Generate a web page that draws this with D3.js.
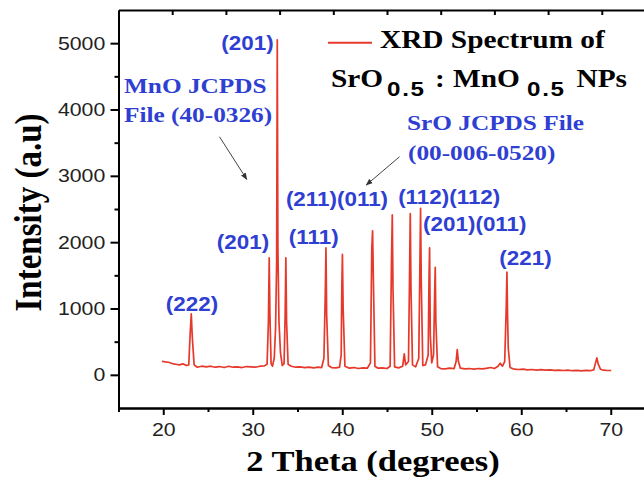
<!DOCTYPE html>
<html lang="en">
<head>
<meta charset="UTF-8">
<script src="https://d3js.org/d3.v7.min.js"></script>
<title>XRD Spectrum</title>
<style>
  body { margin: 0; background: #fff; }
  svg { display: block; }
</style>
</head>
<body>
<svg id="chart" width="644" height="482"></svg>
<script>
// spectrum (2 theta in degrees, intensity in a.u)
const twoTheta = [19.85, 20.2, 20.6, 21.0, 21.4, 21.8, 22.2, 22.6, 22.85, 23.0, 23.13, 23.25, 23.45, 23.8, 24.3, 24.8, 25.3, 25.8, 26.3, 26.8, 27.3, 27.8, 28.3, 28.8, 29.3, 29.8, 30.3, 30.8, 31.3, 31.6, 31.75, 31.84, 31.92, 32.05, 32.2, 32.4, 32.55, 32.67, 32.74, 32.81, 32.93, 33.1, 33.3, 33.5, 33.62, 33.7, 33.78, 33.95, 34.3, 34.8, 35.3, 35.8, 36.3, 36.8, 37.3, 37.7, 37.95, 38.1, 38.18, 38.26, 38.45, 38.8, 39.3, 39.7, 39.88, 39.95, 40.02, 40.1, 40.3, 40.8, 41.3, 41.8, 42.3, 42.8, 43.15, 43.3, 43.39, 43.47, 43.65, 44.0, 44.5, 45.0, 45.35, 45.5, 45.59, 45.67, 45.85, 46.3, 46.75, 46.93, 47.08, 47.4, 47.52, 47.6, 47.68, 47.85, 48.2, 48.55, 48.68, 48.75, 48.83, 49.0, 49.3, 49.6, 49.7, 49.76, 49.84, 50.0, 50.2, 50.32, 50.39, 50.46, 50.65, 51.0, 51.5, 52.0, 52.5, 52.72, 52.85, 52.98, 53.2, 53.7, 54.2, 54.7, 55.2, 55.7, 56.2, 56.6, 57.0, 57.4, 57.65, 57.9, 58.15, 58.32, 58.4, 58.47, 58.55, 58.75, 59.2, 59.7, 60.2, 60.7, 61.2, 61.7, 62.2, 62.7, 63.2, 63.7, 64.2, 64.7, 65.2, 65.7, 66.2, 66.7, 67.2, 67.7, 68.1, 68.3, 68.45, 68.6, 68.85, 69.2, 69.6, 70.05];
const intensity = [205, 195, 190, 170, 160, 150, 165, 140, 150, 600, 920, 560, 150, 115, 130, 120, 130, 115, 125, 110, 130, 115, 120, 110, 125, 120, 115, 130, 135, 160, 800, 1765, 900, 170, 130, 250, 700, 1700, 5050, 1900, 800, 330, 140, 170, 900, 1765, 800, 160, 130, 115, 120, 110, 115, 105, 115, 110, 250, 1200, 1915, 900, 140, 110, 105, 115, 300, 1300, 1815, 1000, 130, 100, 110, 95, 105, 100, 180, 1900, 2170, 1500, 130, 100, 105, 95, 130, 1700, 2410, 1300, 120, 105, 130, 315, 150, 200, 1500, 2430, 1300, 150, 120, 250, 1700, 2510, 1400, 140, 150, 300, 1500, 1915, 600, 180, 300, 1200, 1620, 800, 120, 95, 90, 100, 95, 200, 380, 200, 100, 90, 95, 85, 95, 90, 100, 110, 95, 130, 175, 130, 200, 1000, 1548, 900, 400, 110, 85, 80, 85, 75, 80, 70, 78, 70, 75, 68, 72, 65, 70, 62, 68, 60, 66, 62, 75, 180, 256, 160, 85, 70, 65, 65];

// peak labels (text, 2 theta of label centre, intensity of label baseline)
const peakLabels = ["(222)", "(201)", "(201)", "(111)", "(211)(011)", "(112)(112)", "(201)(011)", "(221)"];
const peakLabelTheta = [23.21, 29.41, 28.91, 36.81, 39.41, 51.95, 54.81, 60.47];
const peakLabelIntensity = [962, 4897, 1893, 1972, 2545, 2575, 2168, 1655];

// axis ticks
const xMajorTicks = [20, 30, 40, 50, 60, 70];
const xMinorTicks = [15, 25, 35, 45, 55, 65, 75];
const xTopTicks = [21, 27, 33, 39, 45, 51, 57, 63, 69];
const yMajorTicks = [0, 1000, 2000, 3000, 4000, 5000];
const yMinorTicks = [500, 1500, 2500, 3500, 4500];

const svg = d3.select("#chart");
const SX = 1.15; // the picture is stretched sideways a bit

const x = d3.scaleLinear().domain([15, 75]).range([118.5, 655.5]);
const y = d3.scaleLinear().domain([-500, 5500]).range([408, 10]);

const red = "#e6392c", blue = "#2f3fd2";

function addText(str, px, py, size, opts) {
  opts = opts || {};
  return svg.append("text")
    .attr("transform", `translate(${px},${py}) scale(${SX},1)` + (opts.rotate ? ` rotate(${opts.rotate})` : ""))
    .attr("text-anchor", opts.anchor || "start")
    .attr("font-family", opts.family || "'Liberation Serif', 'Times New Roman', serif")
    .attr("font-weight", opts.weight || "bold")
    .attr("font-size", size)
    .attr("letter-spacing", opts.spacing || null)
    .attr("fill", opts.fill || "#000")
    .text(str);
}

// axes
function styleAxis(g) {
  g.selectAll("path.domain").attr("stroke", "#000").attr("stroke-width", 2);
  g.selectAll(".tick line").attr("stroke", "#000").attr("stroke-width", 2);
  g.selectAll(".tick text")
    .attr("font-family", "'Liberation Sans', Arial, sans-serif")
    .attr("font-size", 18.5)
    .attr("fill", "#222")
    .attr("transform", `scale(${SX},1)`);
}

svg.append("g")
  .attr("transform", "translate(0,10)")
  .call(d3.axisBottom(x).tickValues(xTopTicks).tickSize(5).tickSizeOuter(0).tickFormat(""))
  .call(styleAxis);

svg.append("g")
  .attr("transform", "translate(0,408)")
  .call(d3.axisBottom(x).tickValues(xMinorTicks).tickSize(4).tickSizeOuter(0).tickFormat(""))
  .call(styleAxis);
svg.append("g")
  .attr("transform", "translate(0,408)")
  .call(d3.axisBottom(x).tickValues(xMajorTicks).tickSize(7).tickSizeOuter(0).tickPadding(8))
  .call(styleAxis);

svg.append("g")
  .attr("transform", "translate(118.5,0)")
  .call(d3.axisLeft(y).tickValues(yMinorTicks).tickSize(4).tickSizeOuter(0).tickFormat(""))
  .call(styleAxis);
svg.append("g")
  .attr("transform", "translate(118.5,0)")
  .call(d3.axisLeft(y).tickValues(yMajorTicks).tickSize(8).tickSizeOuter(0).tickPadding(3.5).tickFormat(d3.format("d")))
  .call(styleAxis);

// spectrum
const line = d3.line()
  .x((d, i) => x(twoTheta[i]))
  .y(d => y(d));

svg.append("path")
  .datum(intensity)
  .attr("fill", "none")
  .attr("stroke", red)
  .attr("stroke-width", 1.7)
  .attr("stroke-linejoin", "round")
  .attr("d", line);

// peak labels
peakLabels.forEach((t, i) => {
  addText(t, x(peakLabelTheta[i]), y(peakLabelIntensity[i]), 19.5, {
    anchor: "middle", family: "'Liberation Sans', Arial, sans-serif", fill: blue
  });
});

// arrows
svg.append("defs").append("marker")
  .attr("id", "head")
  .attr("viewBox", "0 0 10 10")
  .attr("refX", 9).attr("refY", 5)
  .attr("markerWidth", 7).attr("markerHeight", 7)
  .attr("orient", "auto")
  .append("path")
  .attr("d", "M0,1 L10,5 L0,9 Z")
  .attr("fill", "#333");

const arrows = [[26.28, 3590, 29.33, 2947], [46.4, 3288, 42.68, 2861]];
arrows.forEach(a => {
  svg.append("line")
    .attr("x1", x(a[0])).attr("y1", y(a[1]))
    .attr("x2", x(a[2])).attr("y2", y(a[3]))
    .attr("stroke", "#444").attr("stroke-width", 1)
    .attr("marker-end", "url(#head)");
});

// JCPDS notes
addText("MnO JCPDS", 124, 93, 22, { fill: blue });
addText("File (40-0326)", 124, 121.5, 22, { fill: blue });
addText("SrO JCPDS File", 407, 129.5, 22, { fill: blue });
addText("(00-006-0520)", 408, 160, 22, { fill: blue });

// legend
svg.append("line")
  .attr("x1", 328).attr("x2", 372).attr("y1", 42.7).attr("y2", 42.7)
  .attr("stroke", red).attr("stroke-width", 2);
addText("XRD Spectrum of", 380, 48, 25.5);
addText("SrO", 331, 86.5, 25.5);
addText("0.5", 387, 96, 21, { family: "'Liberation Sans', Arial, sans-serif", spacing: 1.5 });
addText(":", 435, 86.5, 25.5);
addText("MnO", 453, 86.5, 25.5);
addText("0.5", 527, 96, 21, { family: "'Liberation Sans', Arial, sans-serif", spacing: 1.5 });
addText("NPs", 576.5, 86.5, 25.5);

// axis titles
addText("2 Theta (degrees)", 373, 471, 30, { anchor: "middle" });
addText("Intensity (a.u)", 41, 212.5, 33, { anchor: "middle", rotate: -90 });
</script>
</body>
</html>
